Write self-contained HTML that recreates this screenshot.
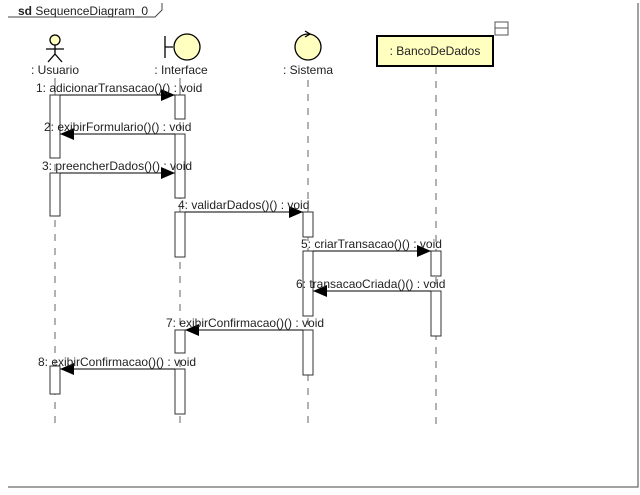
<!DOCTYPE html><html><head><style>body{margin:0;background:#fff}text{font-family:"Liberation Sans",sans-serif;font-size:12px;fill:#222}</style></head><body>
<svg width="640" height="490" xmlns="http://www.w3.org/2000/svg">
<defs><marker id="a" markerWidth="14" markerHeight="12" refX="14" refY="6" orient="auto" markerUnits="userSpaceOnUse"><path d="M0,0L14,6L0,12z" fill="#000"/></marker></defs>
<g stroke="#444" fill="none">
<path d="M8,17H155L162,10V3"/>
<path d="M638,3V487H8"/>
</g>
<text x="18" y="15"><tspan font-weight="bold">sd</tspan> SequenceDiagram_0</text>
<g stroke="#000" fill="none" stroke-width="1.3">
<circle cx="55" cy="40" r="5" fill="#ffffc0"/><path d="M55,45V54M46,49H64M55,54L48,62M55,54L62,62"/>
<path d="M165,36V58M165,47H173"/><circle cx="187" cy="47" r="13" fill="#ffffc0"/>
<circle cx="308" cy="47" r="13" fill="#ffffc0"/><path d="M305,31L310,34L305,37"/>
</g>
<text x="55" y="74" text-anchor="middle">: Usuario</text>
<text x="181" y="74" text-anchor="middle">: Interface</text>
<text x="308" y="74" text-anchor="middle">: Sistema</text>
<rect x="377" y="36" width="116" height="30" fill="#ffffc0" stroke="#000" stroke-width="2"/>
<text x="435" y="55" text-anchor="middle">: BancoDeDados</text>
<rect x="495" y="22" width="13" height="13" fill="#fff" stroke="#555"/><path d="M495,28H508" stroke="#555"/>
<g stroke="#666" stroke-dasharray="7,7" fill="none">
<path d="M55,80V425"/><path d="M180,80V430"/><path d="M308,80V425"/><path d="M436,67V425"/>
</g>
<path d="M55,78V95M180,78V95" stroke="#666"/>
<g fill="#fff" stroke="#333">
<rect x="50" y="95" width="10" height="63"/><rect x="50" y="173" width="10" height="43"/><rect x="50" y="366" width="10" height="28"/>
<rect x="175" y="95" width="10" height="24"/><rect x="175" y="134" width="10" height="64"/><rect x="175" y="212" width="10" height="45"/><rect x="175" y="330" width="10" height="23"/><rect x="175" y="369" width="10" height="45"/>
<rect x="303" y="212" width="10" height="25"/><rect x="303" y="251" width="10" height="65"/><rect x="303" y="330" width="10" height="45"/>
<rect x="431" y="251" width="10" height="25"/><rect x="431" y="291" width="10" height="45"/>
</g>
<g stroke="#000" marker-end="url(#a)">
<path d="M60,95H175"/><path d="M175,134H60"/><path d="M60,173H175"/><path d="M185,212H303"/>
<path d="M313,251H431"/><path d="M431,291H313"/><path d="M303,330H185"/><path d="M175,369H60"/>
</g>
<text x="36" y="92">1: adicionarTransacao()() : void</text>
<text x="44" y="131">2: exibirFormulario()() : void</text>
<text x="42" y="170">3: preencherDados()() : void</text>
<text x="178" y="209">4: validarDados()() : void</text>
<text x="301" y="248">5: criarTransacao()() : void</text>
<text x="296" y="288">6: transacaoCriada()() : void</text>
<text x="166" y="327">7: exibirConfirmacao()() : void</text>
<text x="38" y="366">8: exibirConfirmacao()() : void</text>
</svg></body></html>
